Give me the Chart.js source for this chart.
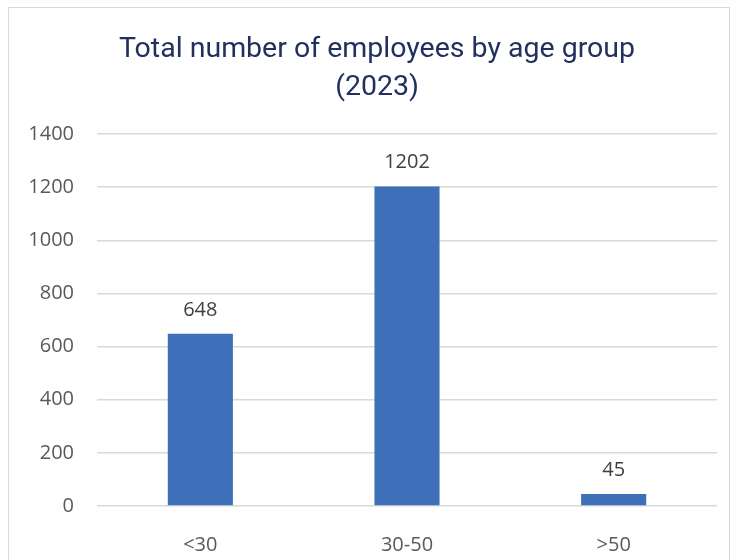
<!DOCTYPE html>
<html>
<head>
<meta charset="utf-8">
<script src="https://cdn.jsdelivr.net/npm/chart.js@4/dist/chart.umd.min.js"></script>
<style>
    body { margin:0; background:#fff; }
    #wrap { position:relative; width:736px; height:560px; overflow:hidden; }
    #frame { position:absolute; left:8px; top:7px; width:722px; height:600px; border:1.5px solid #d9d9d9; box-sizing:border-box; }
    #chart { position:absolute; left:0; top:0; }
    #title { position:absolute; left:18px; width:718px; top:29px; text-align:center;
             font-family:Roboto; font-size:28.5px; line-height:38px; color:#22305f; }
</style>
</head>
<body>
<div id="wrap">
    <div id="frame"></div>
    <canvas id="chart" width="736" height="560"></canvas>
    <div id="title"></div>
</div>
<script>
// data
let ageGroups = ["<30", "30-50", ">50"];
let employees = [648, 1202, 45];
let titleLines = ["Total number of employees by age group", "(2023)"];

document.getElementById("title").innerHTML = titleLines.join("<br>");

// value labels above each bar
let valueLabels = {
    id:"valueLabels",
    afterDatasetsDraw(chart) {
        let ctx = chart.ctx;
        let meta = chart.getDatasetMeta(0);
        ctx.save();
        ctx.font = "20px 'Open Sans'";
        ctx.fillStyle = "#404040";
        ctx.textAlign = "center";
        ctx.textBaseline = "middle";
        meta.data.forEach(function(bar, i) {
            ctx.fillText(employees[i], bar.x, bar.y - 24);
        });
        ctx.restore();
    }
};

new Chart(document.getElementById("chart"), {
    type:"bar",
    plugins:[valueLabels],
    data:{
        labels:ageGroups,
        datasets:[{
            data:employees,
            backgroundColor:"#3e70b9",
            categoryPercentage:1,
            barPercentage:0.315
        }]
    },
    options:{
        responsive:false,
        animation:false,
        layout:{ padding:{ top:134, right:19, bottom:6, left:24 } },
        plugins:{
            legend:{ display:false },
            tooltip:{ enabled:false },
            title:{ display:false }
        },
        scales:{
            x:{
                afterFit:function(s) { s.height = 48; },
                grid:{ display:false },
                border:{ display:false },
                ticks:{ color:"#595959", font:{ family:"Open Sans", size:20 }, padding:19 }
            },
            y:{
                min:0,
                max:1400,
                afterFit:function(s) { s.width = 73; },
                grid:{ color:"#d9d9d9", lineWidth:1.5, drawTicks:false },
                border:{ display:false },
                ticks:{
                    stepSize:200,
                    color:"#595959",
                    font:{ family:"Open Sans", size:20 },
                    padding:23,
                    callback:function(v) { return String(v); }
                }
            }
        }
    }
});
</script>
</body>
</html>
